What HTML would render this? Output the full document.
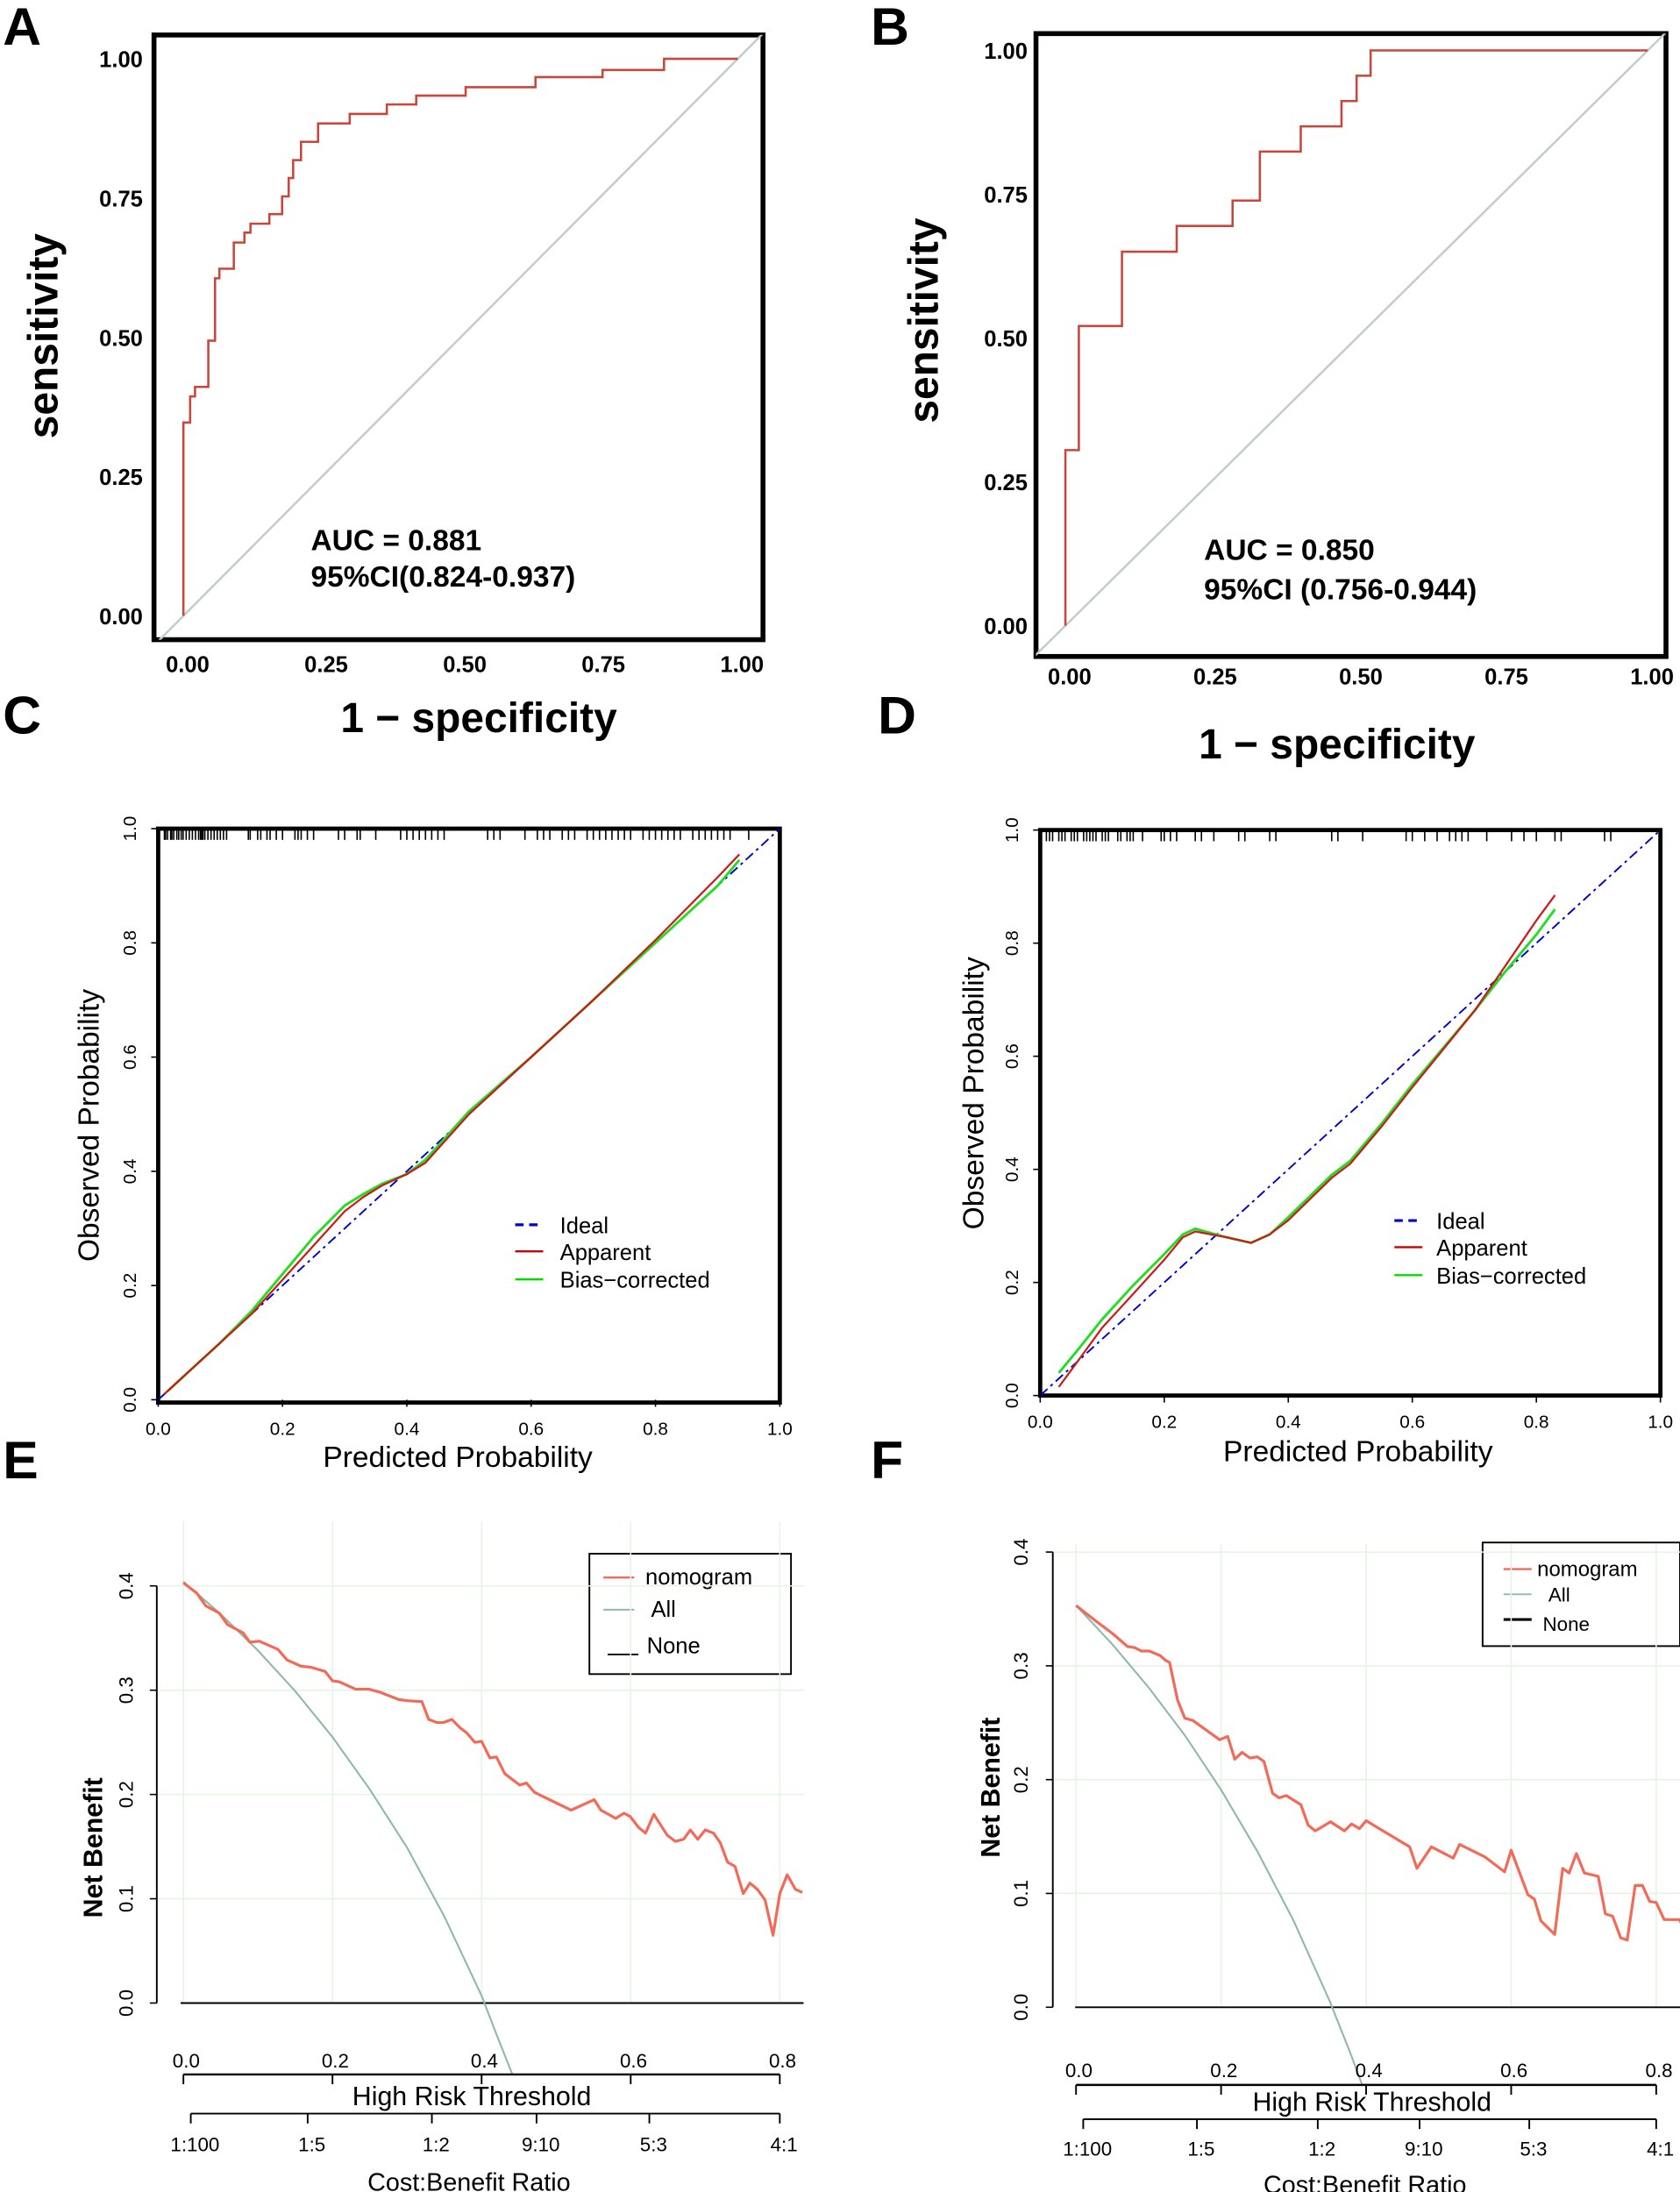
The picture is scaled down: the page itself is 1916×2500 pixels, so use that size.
<!DOCTYPE html>
<html><head><meta charset="utf-8">
<style>
html,body{margin:0;padding:0;background:#fff;}
svg{display:block;}
text{font-family:"Liberation Sans",Arial,sans-serif;}
.b{font-weight:bold;}
</style></head>
<body>
<svg id="fig" xmlns="http://www.w3.org/2000/svg" width="1916" height="2500" viewBox="0 0 1200 1566" preserveAspectRatio="none">
<defs>
<clipPath id="clipA"><rect x="110" y="25" width="435" height="432"/></clipPath>
<clipPath id="clipB"><rect x="740" y="24" width="450" height="445"/></clipPath>
<clipPath id="clipE"><rect x="112" y="1080" width="470" height="402"/></clipPath>
<clipPath id="clipF"><rect x="752" y="1090" width="450" height="400"/></clipPath>
</defs>
<text class="b" x="2" y="32" font-size="38">A</text>
<text class="b" x="622" y="32" font-size="38">B</text>
<text class="b" x="2" y="524" font-size="38">C</text>
<text class="b" x="627" y="524" font-size="38">D</text>
<text class="b" x="2" y="1056" font-size="38">E</text>
<text class="b" x="622" y="1056" font-size="38">F</text>

<rect x="110" y="25" width="435" height="432" fill="none" stroke="#000" stroke-width="3.5"/>
<text class="b" x="33" y="240" font-size="30" text-anchor="middle" dominant-baseline="middle" transform="rotate(-90 33 240)">sensitivity</text>
<text class="b" x="342" y="523" font-size="30" text-anchor="middle">1 − specificity</text>
<text class="b" x="222" y="393" font-size="21">AUC = 0.881</text>
<text class="b" x="222" y="419" font-size="21">95%CI(0.824-0.937)</text>

<rect x="740" y="24" width="450" height="445" fill="none" stroke="#000" stroke-width="3.5"/>
<text class="b" x="662" y="229" font-size="30" text-anchor="middle" dominant-baseline="middle" transform="rotate(-90 662 229)">sensitivity</text>
<text class="b" x="955" y="542" font-size="30" text-anchor="middle">1 − specificity</text>
<text class="b" x="860" y="400" font-size="21">AUC = 0.850</text>
<text class="b" x="860" y="428" font-size="21">95%CI (0.756-0.944)</text>

<rect x="113" y="592" width="444" height="410" fill="none" stroke="#000" stroke-width="3"/>
<text x="65" y="804" font-size="21" text-anchor="middle" dominant-baseline="middle" transform="rotate(-90 65 804)">Observed Probability</text>
<text x="327" y="1048" font-size="21" text-anchor="middle">Predicted Probability</text>
<g>
<line x1="368" y1="875" x2="388" y2="875" stroke="#0000cc" stroke-width="2" stroke-dasharray="6,4"/>
<text x="400" y="881" font-size="16">Ideal</text>
<line x1="368" y1="894" x2="388" y2="894" stroke="#cc0000" stroke-width="1.5"/>
<text x="400" y="900" font-size="16">Apparent</text>
<line x1="368" y1="914" x2="388" y2="914" stroke="#00dd00" stroke-width="1.5"/>
<text x="400" y="920" font-size="16">Bias−corrected</text>
</g>

<rect x="743" y="593" width="443" height="404" fill="none" stroke="#000" stroke-width="3"/>
<text x="697" y="781" font-size="21" text-anchor="middle" dominant-baseline="middle" transform="rotate(-90 697 781)">Observed Probability</text>
<text x="970" y="1044" font-size="21" text-anchor="middle">Predicted Probability</text>
<g>
<line x1="996" y1="872" x2="1016" y2="872" stroke="#0000cc" stroke-width="2" stroke-dasharray="6,4"/>
<text x="1026" y="878" font-size="16">Ideal</text>
<line x1="996" y1="891" x2="1016" y2="891" stroke="#cc0000" stroke-width="1.5"/>
<text x="1026" y="897" font-size="16">Apparent</text>
<line x1="996" y1="911" x2="1016" y2="911" stroke="#00dd00" stroke-width="1.5"/>
<text x="1026" y="917" font-size="16">Bias−corrected</text>
</g>

<text class="b" x="68" y="1320" font-size="19" text-anchor="middle" dominant-baseline="middle" transform="rotate(-90 68 1320)">Net Benefit</text>
<text x="337" y="1504" font-size="19" text-anchor="middle">High Risk Threshold</text>
<text x="335" y="1565" font-size="18" text-anchor="middle">Cost:Benefit Ratio</text>
<g>
<rect x="421" y="1110" width="144" height="86" fill="#fff" stroke="#000" stroke-width="1.2"/>
<line x1="431" y1="1127" x2="453" y2="1127" stroke="#f26a58" stroke-width="1.5"/>
<text x="461" y="1132" font-size="16">nomogram</text>
<line x1="431" y1="1150" x2="453" y2="1150" stroke="#8fb8a8" stroke-width="1.2"/>
<text x="465" y="1155" font-size="16">All</text>
<line x1="434" y1="1182" x2="456" y2="1182" stroke="#000" stroke-width="1.2"/>
<text x="462" y="1181" font-size="16">None</text>
</g>

<text class="b" x="709" y="1277" font-size="19" text-anchor="middle" dominant-baseline="middle" transform="rotate(-90 709 1277)">Net Benefit</text>
<text x="980" y="1508" font-size="19" text-anchor="middle">High Risk Threshold</text>
<text x="975" y="1567" font-size="18" text-anchor="middle">Cost:Benefit Ratio</text>
<g>
<rect x="1059" y="1102" width="141" height="74" fill="#fff" stroke="#000" stroke-width="1.2"/>
<line x1="1074" y1="1121" x2="1094" y2="1121" stroke="#f26a58" stroke-width="1.5"/>
<text x="1098" y="1126" font-size="15">nomogram</text>
<line x1="1074" y1="1139" x2="1094" y2="1139" stroke="#8fb8a8" stroke-width="1.2"/>
<text x="1106" y="1144" font-size="14">All</text>
<line x1="1074" y1="1157" x2="1094" y2="1157" stroke="#000" stroke-width="2"/>
<text x="1102" y="1165" font-size="14">None</text>
</g>
</svg>
<script>
const rocA_fpr=[0,0.012,0.021,0.045,0.057,0.065,0.091,0.110,0.121,0.155,0.178,0.190,0.198,0.212,0.243,0.300,0.367,0.420,0.509,0.635,0.756,0.867];
const rocA_tpr=[0.347,0.394,0.411,0.494,0.606,0.623,0.670,0.688,0.704,0.721,0.753,0.786,0.818,0.851,0.884,0.901,0.918,0.934,0.949,0.967,0.980,1.0];
const rocB_fpr=[0,0.023,0.097,0.191,0.287,0.334,0.404,0.474,0.500,0.524];
const rocB_tpr=[0.305,0.521,0.650,0.695,0.739,0.824,0.868,0.912,0.956,1.0];
const rocTicks=[0,0.25,0.5,0.75,1];
const rocTickLabels=["0.00","0.25","0.50","0.75","1.00"];

const calC_appX=[0.01,0.05,0.1,0.15,0.2,0.25,0.3,0.33,0.36,0.4,0.43,0.5,0.6,0.7,0.8,0.9,0.935];
const calC_appY=[0.01,0.05,0.1,0.15,0.21,0.27,0.33,0.355,0.375,0.395,0.415,0.5,0.6,0.7,0.805,0.915,0.955];
const calC_bcX=[0.015,0.05,0.1,0.15,0.2,0.25,0.3,0.33,0.36,0.4,0.43,0.5,0.6,0.7,0.8,0.9,0.935];
const calC_bcY=[0.015,0.05,0.1,0.155,0.22,0.285,0.34,0.36,0.378,0.395,0.42,0.505,0.6,0.7,0.8,0.9,0.945];
const rugC=[0.01,0.012,0.015,0.02,0.022,0.025,0.03,0.033,0.037,0.04,0.045,0.05,0.055,0.06,0.065,0.068,0.07,0.072,0.075,0.08,0.085,0.09,0.095,0.1,0.105,0.11,0.145,0.148,0.16,0.165,0.175,0.18,0.19,0.2,0.22,0.225,0.23,0.24,0.25,0.29,0.3,0.32,0.325,0.35,0.39,0.4,0.41,0.42,0.43,0.44,0.45,0.46,0.53,0.54,0.55,0.59,0.61,0.62,0.63,0.65,0.66,0.67,0.69,0.7,0.71,0.72,0.73,0.74,0.75,0.76,0.78,0.79,0.8,0.81,0.82,0.83,0.84,0.86,0.87,0.88,0.89,0.9,0.91,0.92,0.95];
const calD_appX=[0.03,0.06,0.1,0.15,0.2,0.23,0.25,0.3,0.34,0.37,0.4,0.47,0.5,0.55,0.6,0.7,0.75,0.8,0.83];
const calD_appY=[0.015,0.06,0.12,0.18,0.24,0.28,0.29,0.28,0.27,0.285,0.31,0.385,0.41,0.475,0.545,0.68,0.76,0.84,0.885];
const calD_bcX=[0.03,0.06,0.1,0.15,0.2,0.23,0.25,0.3,0.34,0.37,0.4,0.47,0.5,0.55,0.6,0.7,0.75,0.8,0.83];
const calD_bcY=[0.04,0.08,0.135,0.195,0.25,0.285,0.295,0.28,0.27,0.285,0.315,0.39,0.415,0.48,0.55,0.68,0.75,0.815,0.86];
const rugD=[0.01,0.015,0.02,0.03,0.035,0.04,0.05,0.055,0.06,0.07,0.075,0.08,0.085,0.09,0.1,0.105,0.11,0.125,0.13,0.14,0.145,0.15,0.165,0.195,0.2,0.21,0.22,0.25,0.26,0.28,0.32,0.33,0.37,0.38,0.47,0.48,0.52,0.59,0.6,0.62,0.64,0.66,0.67,0.68,0.69,0.72,0.76,0.78,0.8,0.83,0.84,0.91,0.92];
const calTicks=[0,0.2,0.4,0.6,0.8,1];
const calTickLabels=["0.0","0.2","0.4","0.6","0.8","1.0"];

const dcaE_t=[0,0.018,0.030,0.048,0.059,0.080,0.089,0.102,0.127,0.139,0.158,0.171,0.190,0.200,0.209,0.231,0.249,0.264,0.289,0.301,0.320,0.329,0.340,0.349,0.360,0.371,0.380,0.391,0.400,0.411,0.420,0.431,0.451,0.460,0.471,0.520,0.551,0.560,0.580,0.591,0.599,0.611,0.620,0.631,0.649,0.660,0.671,0.680,0.690,0.700,0.711,0.720,0.730,0.740,0.751,0.760,0.770,0.780,0.791,0.800,0.810,0.821,0.830];
const dcaE_nb=[0.403,0.393,0.381,0.374,0.363,0.355,0.346,0.347,0.339,0.329,0.323,0.322,0.318,0.309,0.308,0.301,0.301,0.298,0.291,0.290,0.289,0.272,0.269,0.269,0.272,0.264,0.259,0.250,0.251,0.235,0.236,0.220,0.209,0.211,0.202,0.185,0.195,0.185,0.177,0.182,0.179,0.168,0.163,0.181,0.161,0.155,0.157,0.166,0.157,0.166,0.163,0.154,0.135,0.131,0.105,0.115,0.109,0.099,0.065,0.105,0.123,0.109,0.106];
const dcaE_allT=[0,0.05,0.1,0.15,0.2,0.25,0.3,0.35,0.4,0.42,0.45];
const dcaE_allNb=[0.404,0.373,0.338,0.299,0.255,0.205,0.149,0.083,0.007,-0.030,-0.084];
const dcaF_t=[0,0.026,0.049,0.071,0.081,0.090,0.101,0.116,0.123,0.129,0.140,0.150,0.161,0.198,0.209,0.219,0.229,0.240,0.250,0.259,0.271,0.280,0.290,0.310,0.320,0.330,0.351,0.370,0.380,0.391,0.400,0.460,0.470,0.490,0.520,0.529,0.564,0.591,0.600,0.623,0.632,0.641,0.660,0.671,0.680,0.690,0.701,0.720,0.730,0.740,0.751,0.760,0.771,0.781,0.791,0.800,0.811,0.832,0.837];
const dcaF_nb=[0.353,0.340,0.329,0.317,0.316,0.313,0.313,0.309,0.305,0.303,0.270,0.254,0.252,0.235,0.238,0.218,0.224,0.219,0.220,0.216,0.188,0.184,0.186,0.178,0.160,0.155,0.163,0.155,0.161,0.157,0.164,0.141,0.122,0.141,0.131,0.143,0.132,0.119,0.138,0.099,0.095,0.076,0.064,0.122,0.118,0.135,0.118,0.115,0.082,0.080,0.061,0.059,0.107,0.107,0.093,0.092,0.077,0.077,0.071];
const dcaF_allT=[0,0.05,0.1,0.15,0.2,0.25,0.3,0.35,0.38,0.41];
const dcaF_allNb=[0.353,0.319,0.281,0.239,0.191,0.137,0.076,0.005,-0.043,-0.095];
const dcaYTicks=[0,0.1,0.2,0.3,0.4];
const dcaYTickLabels=["0.0","0.1","0.2","0.3","0.4"];
const dcaXTicks=[0,0.2,0.4,0.6,0.8];
const dcaXTickLabels=["0.0","0.2","0.4","0.6","0.8"];
const costTicks=[0.0099,0.1667,0.3333,0.4737,0.625,0.8];
const costLabels=["1:100","1:5","1:2","9:10","5:3","4:1"];

const NS='http://www.w3.org/2000/svg';
const svg=document.getElementById('fig');
function mk(tag,attrs,parent){const e=document.createElementNS(NS,tag);for(const k in attrs)e.setAttribute(k,attrs[k]);(parent||svg).appendChild(e);return e;}
function tx(str,attrs){const e=mk('text',attrs);e.textContent=str;return e;}
function linePath(xs,ys,sx,sy){let d='';for(let i=0;i<xs.length;i++){d+=(i?'L':'M')+sx(xs[i]).toFixed(1)+','+sy(ys[i]).toFixed(1);}return d;}

function roc(id,fpr,tpr,sx,sy,clip,labelX,yLabY){
  const diag=mk('line',{x1:sx(-0.1),y1:sy(-0.1),x2:sx(1.06),y2:sy(1.06),stroke:'#c4cccc','stroke-width':1.6,'clip-path':'url(#'+clip+')'});
  
  
  let d='M'+sx(0)+','+sy(0);
  for(let i=0;i<fpr.length;i++){d+='H'+sx(fpr[i]).toFixed(1)+'V'+sy(tpr[i]).toFixed(1);}
  d+='H'+sx(1);
  const p=mk('path',{d:d,fill:'none',stroke:'#c8463a','stroke-width':1.6});
  
  
  for(let i=0;i<rocTicks.length;i++){
    const t=tx(rocTickLabels[i],{x:labelX,y:sy(rocTicks[i])+6,'font-size':16,'font-weight':'bold','text-anchor':'end'});
    
    
    const u=tx(rocTickLabels[i],{x:sx(rocTicks[i])+3,y:yLabY,'font-size':16,'font-weight':'bold','text-anchor':'middle'});
    
    
  }
}
roc('roc-a',rocA_fpr,rocA_tpr,v=>131+v*396,v=>440-v*398,'clipA',102,480);
roc('roc-b',rocB_fpr,rocB_tpr,v=>761+v*416,v=>447-v*411,'clipB',734,489);

function calib(id,x0,x1,y0,y1,appX,appY,bcX,bcY,rug,ylabX,xlabY){
  const sx=v=>x0+v*(x1-x0), sy=v=>y0-v*(y0-y1);
  const ideal=mk('line',{x1:sx(0),y1:sy(0),x2:sx(1),y2:sy(1),stroke:'#0000cc','stroke-width':1.2,'stroke-dasharray':'7,3,2,3'});
  
  
  const bc=mk('path',{d:linePath(bcX,bcY,sx,sy),fill:'none',stroke:'#22dd22','stroke-width':1.8,'stroke-linejoin':'round'});
  
  
  const ap=mk('path',{d:linePath(appX,appY,sx,sy),fill:'none',stroke:'#cc1a1a','stroke-width':1.4,'stroke-linejoin':'round'});
  
  
  for(let i=0;i<rug.length;i++){
    const r=mk('line',{x1:sx(rug[i]),y1:y1,x2:sx(rug[i]),y2:y1+8,stroke:'#000','stroke-width':1});
    
    
  }
  for(let i=0;i<calTicks.length;i++){
    const ty=sy(calTicks[i]);
    const tk=mk('line',{x1:x0-5,y1:ty,x2:x0,y2:ty,stroke:'#000','stroke-width':1});
    
    
    const t=tx(calTickLabels[i],{x:ylabX,y:ty,'font-size':13,'text-anchor':'middle',transform:'rotate(-90 '+ylabX+' '+ty+')'});
    
    
    const tx2=sx(calTicks[i]);
    const tk2=mk('line',{x1:tx2,y1:y0,x2:tx2,y2:y0+5,stroke:'#000','stroke-width':1});
    
    
    const u=tx(calTickLabels[i],{x:tx2,y:xlabY,'font-size':13,'text-anchor':'middle'});
    
    
  }
}
calib('calib-c',113,557,1000,592,calC_appX,calC_appY,calC_bcX,calC_bcY,rugC,97,1025);
calib('calib-d',743,1186,997,593,calD_appX,calD_appY,calD_bcX,calD_bcY,rugD,727,1020);

function dca(id,x0,xPer,yZero,yPer,axisX,gridTop,gridRight,t,nb,allT,allNb,clip,thrY,costY,ylabX,thrLabY,costLabY,noneX0){
  const sx=v=>x0+v*xPer, sy=v=>yZero-v*yPer;
  for(let i=0;i<dcaXTicks.length;i++){
    const g=mk('line',{x1:sx(dcaXTicks[i]),y1:gridTop,x2:sx(dcaXTicks[i]),y2:yZero,stroke:'#e6f3e6','stroke-width':1});
    
    
  }
  for(let i=1;i<dcaYTicks.length;i++){
    const g=mk('line',{x1:axisX,y1:sy(dcaYTicks[i]),x2:gridRight,y2:sy(dcaYTicks[i]),stroke:'#e6f3e6','stroke-width':1});
    
    
  }
  const ax=mk('line',{x1:axisX,y1:sy(0.4),x2:axisX,y2:sy(0),stroke:'#000','stroke-width':1.2});
  
  
  for(let i=0;i<dcaYTicks.length;i++){
    const ty=sy(dcaYTicks[i]);
    const tk=mk('line',{x1:axisX-5,y1:ty,x2:axisX,y2:ty,stroke:'#000','stroke-width':1});
    
    
    const l=tx(dcaYTickLabels[i],{x:ylabX,y:ty,'font-size':14,'text-anchor':'middle',transform:'rotate(-90 '+ylabX+' '+ty+')'});
    
    
  }
  const none=mk('line',{x1:noneX0,y1:sy(0),x2:gridRight,y2:sy(0),stroke:'#000','stroke-width':1.2});
  
  
  const all=mk('path',{d:linePath(allT,allNb,sx,sy),fill:'none',stroke:'#8fb8a8','stroke-width':1.3,'clip-path':'url(#'+clip+')'});
  
  
  const nom=mk('path',{d:linePath(t,nb,sx,sy),fill:'none',stroke:'#f26a58','stroke-width':2,'stroke-linejoin':'round'});
  
  
  const thr=mk('line',{x1:sx(0),y1:thrY,x2:sx(0.8),y2:thrY,stroke:'#000','stroke-width':1.5});
  
  
  for(let i=0;i<dcaXTicks.length;i++){
    const tk=mk('line',{x1:sx(dcaXTicks[i]),y1:thrY,x2:sx(dcaXTicks[i]),y2:thrY+7,stroke:'#000','stroke-width':1.2});
    
    
    const l=tx(dcaXTickLabels[i],{x:sx(dcaXTicks[i])+2,y:thrLabY,'font-size':14,'text-anchor':'middle'});
    
    
  }
  const cost=mk('line',{x1:sx(costTicks[0]),y1:costY,x2:sx(0.8),y2:costY,stroke:'#000','stroke-width':1.2});
  
  
  for(let i=0;i<costTicks.length;i++){
    const tk=mk('line',{x1:sx(costTicks[i]),y1:costY,x2:sx(costTicks[i]),y2:costY+7,stroke:'#000','stroke-width':1.2});
    
    
    const l=tx(costLabels[i],{x:sx(costTicks[i])+3,y:costLabY,'font-size':14,'text-anchor':'middle'});
    
    
  }
}
dca('dca-e',131,532.5,1431,745,112,1087,574,dcaE_t,dcaE_nb,dcaE_allT,dcaE_allNb,'clipE',1482,1510,95,1477,1537,129);
dca('dca-f',768.6,518,1434,813,752,1103,1200,dcaF_t,dcaF_nb,dcaF_allT,dcaF_allNb,'clipF',1489.5,1514,734,1484,1540,768);
</script>
</body></html>
